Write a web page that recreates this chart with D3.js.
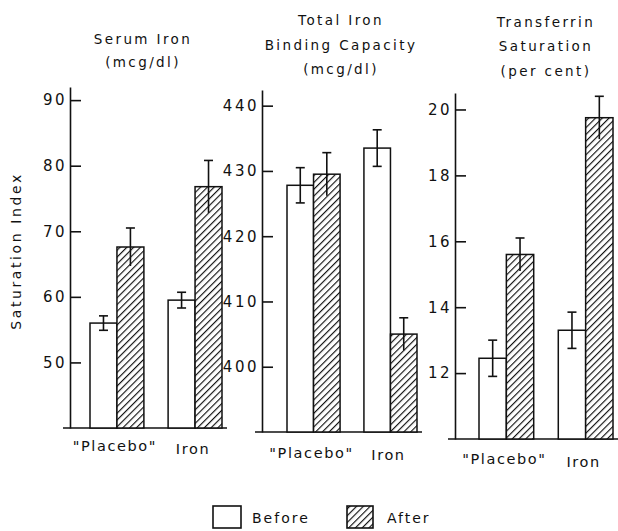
<!DOCTYPE html>
<html><head><meta charset="utf-8">
<script src="https://cdn.jsdelivr.net/npm/d3@7"></script>
<style>
body{margin:0;background:#fff;}
svg text{font-family:"DejaVu Sans",sans-serif;fill:#111;}
</style></head>
<body><svg id="chart" width="618" height="531"></svg>
<script>
// ---- data ----
const categories = ["Placebo", "Iron"];
const categoryLabels = ["\"Placebo\"", "Iron"];
const seriesNames = ["Before", "After"];
const yAxisTitle = "Saturation Index";

const serumTitle = ["Serum Iron", "(mcg/dl)"];
const serumBefore = [56.0, 59.5];
const serumBeforeErr = [1.1, 1.2];
const serumAfter = [67.6, 76.8];
const serumAfterErr = [2.9, 4.0];
const serumTicks = [50, 60, 70, 80, 90];

const tibcTitle = ["Total Iron", "Binding Capacity", "(mcg/dl)"];
const tibcBefore = [427.8, 433.5];
const tibcBeforeErr = [2.7, 2.8];
const tibcAfter = [429.5, 405.0];
const tibcAfterErr = [3.3, 2.5];
const tibcTicks = [400, 410, 420, 430, 440];

const tsatTitle = ["Transferrin", "Saturation", "(per cent)"];
const tsatBefore = [12.45, 13.3];
const tsatBeforeErr = [0.55, 0.55];
const tsatAfter = [15.6, 19.75];
const tsatAfterErr = [0.5, 0.65];
const tsatTicks = [12, 14, 16, 18, 20];

// ---- layout ----
const panels = [
  {title: serumTitle, before: serumBefore, beforeErr: serumBeforeErr, after: serumAfter, afterErr: serumAfterErr,
   ticks: serumTicks, domain: [40, 92], yRange: [428, 87], axisX: 70, xRange: [90, 222],
   titleX: 143, titleY: [44, 67]},
  {title: tibcTitle, before: tibcBefore, beforeErr: tibcBeforeErr, after: tibcAfter, afterErr: tibcAfterErr,
   ticks: tibcTicks, domain: [390, 442.4], yRange: [432, 90], axisX: 262, xRange: [287, 417],
   titleX: 341, titleY: [25, 50, 74]},
  {title: tsatTitle, before: tsatBefore, beforeErr: tsatBeforeErr, after: tsatAfter, afterErr: tsatAfterErr,
   ticks: tsatTicks, domain: [10, 20.5], yRange: [439, 93], axisX: 455, xRange: [479, 613],
   titleX: 546, titleY: [27, 51, 76]}
];
const labelBaseline = x => 451 + (x - 112) * 0.033;

const svg = d3.select("#chart");
const defs = svg.append("defs");
const hs = 4.8;
const pat = defs.append("pattern").attr("id", "hatch").attr("patternUnits", "userSpaceOnUse")
  .attr("width", hs).attr("height", hs).attr("patternTransform", "rotate(45)");
pat.append("rect").attr("width", hs).attr("height", hs).attr("fill", "#fff");
pat.append("line").attr("x1", 0).attr("y1", 0).attr("x2", 0).attr("y2", hs)
  .attr("stroke", "#111").attr("stroke-width", 2.3);

panels.forEach(p => {
  const g = svg.append("g");
  const y = d3.scaleLinear().domain(p.domain).range(p.yRange);
  const x0 = d3.scaleBand().domain(categories).range(p.xRange).paddingInner(0.31).paddingOuter(0);
  const x1 = d3.scaleBand().domain(seriesNames).range([0, x0.bandwidth()]);

  // baseline
  g.append("line").attr("x1", p.axisX - 7).attr("x2", p.xRange[1] + 5)
    .attr("y1", y(p.domain[0])).attr("y2", y(p.domain[0]))
    .attr("stroke", "#111").attr("stroke-width", 1.6);

  // axis
  const ax = g.append("g").attr("transform", `translate(${p.axisX},0)`)
    .call(d3.axisLeft(y).tickValues(p.ticks).tickSize(-11).tickSizeOuter(0).tickPadding(3).tickFormat(d3.format("d")));
  ax.select(".domain").attr("stroke", "#111").attr("stroke-width", 1.6);
  ax.selectAll(".tick line").attr("stroke", "#111").attr("stroke-width", 1.6);
  ax.selectAll(".tick text").attr("font-size", 15).attr("letter-spacing", 2.5)
    .style("font-family", "DejaVu Sans").attr("fill", "#111");

  const rows = categories.map((c, i) => [
    {cat: c, s: "Before", v: p.before[i], e: p.beforeErr[i]},
    {cat: c, s: "After", v: p.after[i], e: p.afterErr[i]}
  ]).flat();

  // bars
  g.selectAll("rect.bar").data(rows).join("rect").attr("class", "bar")
    .attr("x", d => x0(d.cat) + x1(d.s))
    .attr("width", x1.bandwidth())
    .attr("y", d => y(d.v))
    .attr("height", d => y(p.domain[0]) - y(d.v))
    .attr("fill", d => d.s === "After" ? "url(#hatch)" : "#fff")
    .attr("stroke", "#111").attr("stroke-width", 1.5);

  // error bars
  const eg = g.selectAll("g.err").data(rows).join("g").attr("class", "err")
    .attr("transform", d => `translate(${x0(d.cat) + x1(d.s) + x1.bandwidth() / 2},0)`);
  eg.append("line").attr("x1", 0).attr("x2", 0)
    .attr("y1", d => y(d.v + d.e)).attr("y2", d => y(d.v - d.e))
    .attr("stroke", "#111").attr("stroke-width", 1.6);
  eg.append("line").attr("x1", -4.5).attr("x2", 4.5)
    .attr("y1", d => y(d.v + d.e)).attr("y2", d => y(d.v + d.e))
    .attr("stroke", "#111").attr("stroke-width", 1.6);
  eg.filter(d => d.s === "Before").append("line").attr("x1", -4.5).attr("x2", 4.5)
    .attr("y1", d => y(d.v - d.e)).attr("y2", d => y(d.v - d.e))
    .attr("stroke", "#111").attr("stroke-width", 1.6);

  // category labels
  g.selectAll("text.cat").data(categories).join("text").attr("class", "cat")
    .attr("x", d => x0(d) + x0.bandwidth() / 2 - 2)
    .attr("y", d => labelBaseline(x0(d) + x0.bandwidth() / 2))
    .attr("text-anchor", "middle").attr("font-size", 14.5).attr("letter-spacing", 1.6)
    .text((d, i) => categoryLabels[i]);

  // titles
  g.selectAll("text.ttl").data(p.title).join("text").attr("class", "ttl")
    .attr("x", p.titleX).attr("y", (d, i) => p.titleY[i])
    .attr("text-anchor", "middle").attr("font-size", 13.5).attr("letter-spacing", 2.4)
    .text(d => d);
});

// y axis title
svg.append("text").attr("transform", "translate(21,251) rotate(-90)")
  .attr("text-anchor", "middle").attr("font-size", 14).attr("letter-spacing", 2.6)
  .text(yAxisTitle);

// legend
const lg = svg.append("g");
const legendX = d3.scalePoint().domain(seriesNames).range([213, 347]);
seriesNames.forEach(s => {
  lg.append("rect").attr("x", legendX(s)).attr("y", 506).attr("width", s === "After" ? 26 : 28).attr("height", 22)
    .attr("fill", s === "After" ? "url(#hatch)" : "#fff").attr("stroke", "#111").attr("stroke-width", 1.6);
  lg.append("text").attr("x", legendX(s) + (s === "After" ? 40 : 39)).attr("y", 523).attr("font-size", 14)
    .attr("letter-spacing", 2).text(s);
});
</script></body></html>
